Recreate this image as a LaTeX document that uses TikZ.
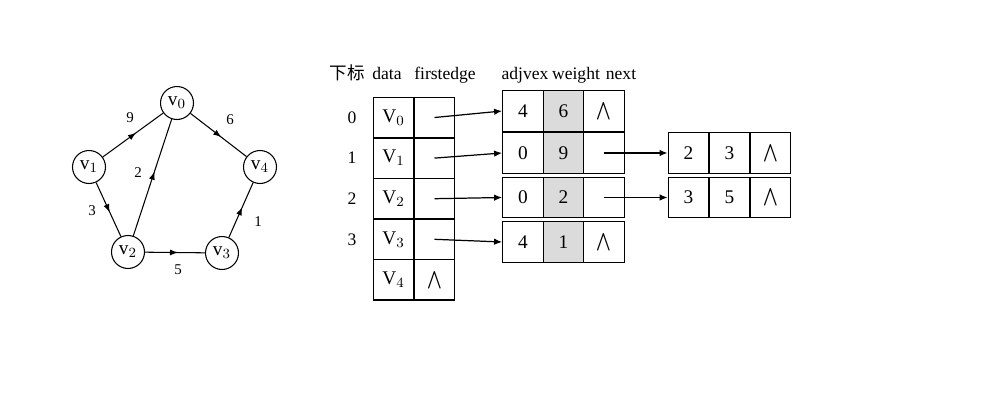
\documentclass[tikz,border=0pt]{standalone}
\usepackage{fontspec}
\setmainfont{Liberation Serif}
\newfontfamily\cjk{Noto Sans CJK SC}
\usepackage{tikz}
\usetikzlibrary{positioning,arrows,arrows.meta,shapes,decorations.markings}

\definecolor{wtgray}{gray}{0.86}
\newcommand{\nullp}{$\bigwedge$}

\tikzset{
  vert/.style={draw, circle, minimum size=0.66cm, inner sep=0pt, line width=0.6pt,
    font=\fontsize{11}{13}\selectfont},
  wlab/.style={font=\fontsize{8.5}{10}\selectfont, inner sep=0pt},
  midarrow/.style={line width=0.6pt, postaction={decorate},
    decoration={markings, mark=at position 0.55 with {\arrow{Latex[length=1.6mm,width=1.2mm]}}}},
  cell/.style={draw, rectangle, minimum width=0.81cm, minimum height=0.81cm,
    inner sep=0pt, line width=0.75pt, font=\fontsize{11}{13}\selectfont},
  head/.style={anchor=base, inner sep=0pt},
  link/.style={-{Latex[length=1.6mm,width=1.3mm]}, line width=0.7pt}
}

\begin{document}
\begin{tikzpicture}[x=0.02cm, y=-0.02cm]
\useasboundingbox (0,0) rectangle (1001,416);

% graph
\node[vert] (v0) at (177,103) {v$_0$};
\node[vert] (v1) at (89,167) {v$_1$};
\node[vert] (v4) at (260,167) {v$_4$};
\node[vert] (v2) at (128,252) {v$_2$};
\node[vert] (v3) at (222,253) {v$_3$};
\draw[midarrow] (v1) -- (v0);
\draw[midarrow] (v0) -- (v4);
\draw[midarrow] (v2) -- (v0);
\draw[midarrow] (v1) -- (v2);
\draw[midarrow] (v2) -- (v3);
\draw[midarrow] (v3) -- (v4);
\node[wlab] (l9) at (130,118) {9};
\node[wlab] (l6) at (230,120) {6};
\node[wlab] (l2) at (138,173) {2};
\node[wlab] (l3) at (92,211) {3};
\node[wlab] (l5) at (178,270) {5};
\node[wlab] (l1) at (258,222) {1};

% headers
\node[head] (hidx) at (347,79) {\cjk 下标};
\node[head] (hdata) at (387,79) {data};
\node[head] (hfirst) at (445,79) {firstedge};
\node[head] (hadj) at (525,79) {adjvex};
\node[head] (hwt) at (576,79) {weight};
\node[head] (hnext) at (621,79) {next};

% vertex table
\foreach \i/\y in {0/117.5,1/158.1,2/198.7,3/239.3}{
  \node (idx\i) at (352,\y) {\i};
  \node[cell] (d\i) at (393.5,\y) {V$_\i$};
  \node[cell] (f\i) at (434.5,\y) {};
}
\node[cell] (d4) at (393.5,279.9) {V$_4$};
\node[cell] (f4) at (434.5,279.9) {\nullp};

% edge lists
\foreach \r/\y/\a/\w/\n in {0/111/4/6/\nullp, 1/153/0/9/{}, 2/197.5/0/2/{}, 3/242/4/1/\nullp}{
  \node[cell] (a\r) at (523,\y) {\a};
  \node[cell, fill=wtgray] (w\r) at (563.5,\y) {\w};
  \node[cell] (n\r) at (604,\y) {\n};
  \draw[link] (f\r.center) -- (a\r.west);
}
\foreach \r/\y/\a/\w in {1/153/2/3, 2/197.5/3/5}{
  \node[cell] (sa\r) at (688.5,\y) {\a};
  \node[cell] (sw\r) at (729.5,\y) {\w};
  \node[cell] (sn\r) at (770.5,\y) {\nullp};
  \draw[link] (n\r.center) -- (sa\r.west);
}
\end{tikzpicture}
\end{document}
